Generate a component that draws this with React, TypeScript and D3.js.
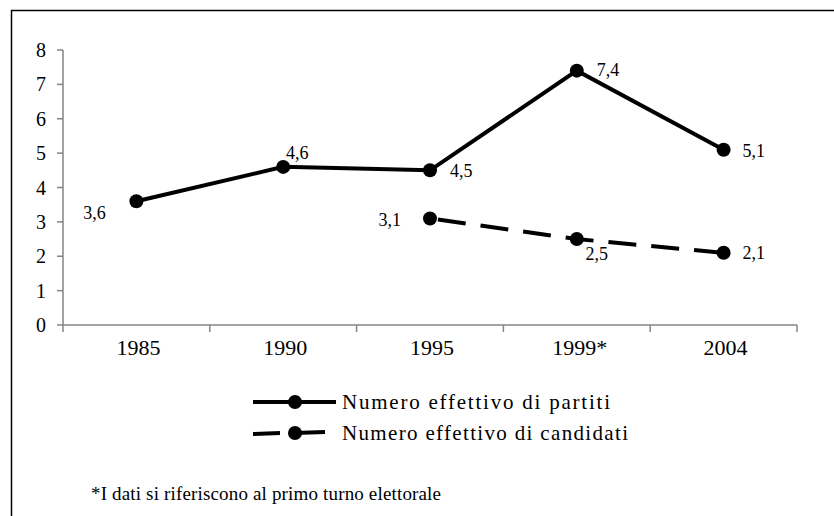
import React from "react";
import * as d3 from "d3";

const categories = ["1985", "1990", "1995", "1999*", "2004"];
const partiti: (number | null)[] = [3.6, 4.6, 4.5, 7.4, 5.1];
const candidati: (number | null)[] = [null, null, 3.1, 2.5, 2.1];
const partitiLabels = ["3,6", "4,6", "4,5", "7,4", "5,1"];
const candidatiLabels = ["", "", "3,1", "2,5", "2,1"];
// label placement: [dx, dy, anchor]
const partitiPos: [number, number, string][] = [
  [-42, 18, "middle"],
  [14, -8, "middle"],
  [20, 7, "start"],
  [20, 5, "start"],
  [19, 7, "start"],
];
const candidatiPos: [number, number, string][] = [
  [0, 0, "start"],
  [0, 0, "start"],
  [-29, 8, "end"],
  [20, 21, "middle"],
  [19, 6, "start"],
];
const yTicks = [0, 1, 2, 3, 4, 5, 6, 7, 8];
const legendLabels = ["Numero effettivo di partiti", "Numero effettivo di candidati"];
const footnote = "*I dati si riferiscono al primo turno elettorale";

const FONT = "Liberation Serif, Times New Roman, serif";

export default function App() {
  const x = d3.scaleBand<string>().domain(categories).range([63, 797]).padding(0);
  const y = d3.scaleLinear().domain([0, 8]).range([325, 50]);
  const cx = (c: string) => (x(c) as number) + x.bandwidth() / 2;

  const line = d3
    .line<number | null>()
    .defined((d) => d !== null)
    .x((_, i) => cx(categories[i]))
    .y((d) => y(d as number));

  const gridColor = "#858585";

  return (
    <svg
      width={834}
      height={516}
      style={{ position: "absolute", left: 0, top: 0, background: "#fff", fontFamily: FONT }}
    >
      <rect x={11.5} y={10.5} width={840} height={540} fill="none" stroke="#000" strokeWidth={1.5} />

      {/* y axis */}
      <line x1={63} x2={63} y1={y(8)} y2={y(0)} stroke={gridColor} strokeWidth={1.5} />
      {yTicks.map((t) => (
        <g key={t}>
          <line x1={57} x2={63} y1={y(t)} y2={y(t)} stroke={gridColor} strokeWidth={1.5} />
          <text x={46} y={y(t) + 7} textAnchor="end" fontSize={20} fill="#000">
            {t}
          </text>
        </g>
      ))}

      {/* x axis */}
      <line x1={63} x2={797} y1={y(0)} y2={y(0)} stroke={gridColor} strokeWidth={1.5} />
      {[...categories.map((c) => x(c) as number), 797].map((v, i) => (
        <line key={i} x1={v} x2={v} y1={y(0)} y2={y(0) + 7} stroke={gridColor} strokeWidth={1.5} />
      ))}
      {categories.map((c) => (
        <text key={c} x={cx(c) + (c === "1999*" ? 3 : 2)} y={355} textAnchor="middle" fontSize={22} fill="#000">
          {c}
        </text>
      ))}

      {/* series */}
      <path d={line(partiti) || ""} fill="none" stroke="#000" strokeWidth={4} />
      <path d={line(candidati) || ""} fill="none" stroke="#000" strokeWidth={4} strokeDasharray="28,15" strokeDashoffset={-8} />
      {partiti.map((d, i) =>
        d === null ? null : <circle key={"p" + i} cx={cx(categories[i])} cy={y(d)} r={7} fill="#000" />
      )}
      {candidati.map((d, i) =>
        d === null ? null : <circle key={"c" + i} cx={cx(categories[i])} cy={y(d)} r={7} fill="#000" />
      )}
      {partiti.map((d, i) =>
        d === null ? null : (
          <text
            key={"pl" + i}
            x={cx(categories[i]) + partitiPos[i][0]}
            y={y(d) + partitiPos[i][1]}
            textAnchor={partitiPos[i][2] as any}
            fontSize={18}
            fill="#000"
          >
            {partitiLabels[i]}
          </text>
        )
      )}
      {candidati.map((d, i) =>
        d === null ? null : (
          <text
            key={"cl" + i}
            x={cx(categories[i]) + candidatiPos[i][0]}
            y={y(d) + candidatiPos[i][1]}
            textAnchor={candidatiPos[i][2] as any}
            fontSize={18}
            fill="#000"
          >
            {candidatiLabels[i]}
          </text>
        )
      )}

      {/* legend */}
      <line x1={253} x2={336} y1={402} y2={402} stroke="#000" strokeWidth={4} />
      <circle cx={295} cy={402} r={7} fill="#000" />
      <text x={342} y={409} fontSize={21} fill="#000" textLength={268}>
        {legendLabels[0]}
      </text>
      <line x1={253} x2={280} y1={434} y2={433} stroke="#000" strokeWidth={4} />
      <line x1={295} x2={325} y1={433} y2={432} stroke="#000" strokeWidth={4} />
      <circle cx={295} cy={433} r={7} fill="#000" />
      <text x={342} y={440} fontSize={21} fill="#000" textLength={286}>
        {legendLabels[1]}
      </text>

      <text x={91} y={500} fontSize={19} fill="#000" textLength={350}>
        {footnote}
      </text>
    </svg>
  );
}
